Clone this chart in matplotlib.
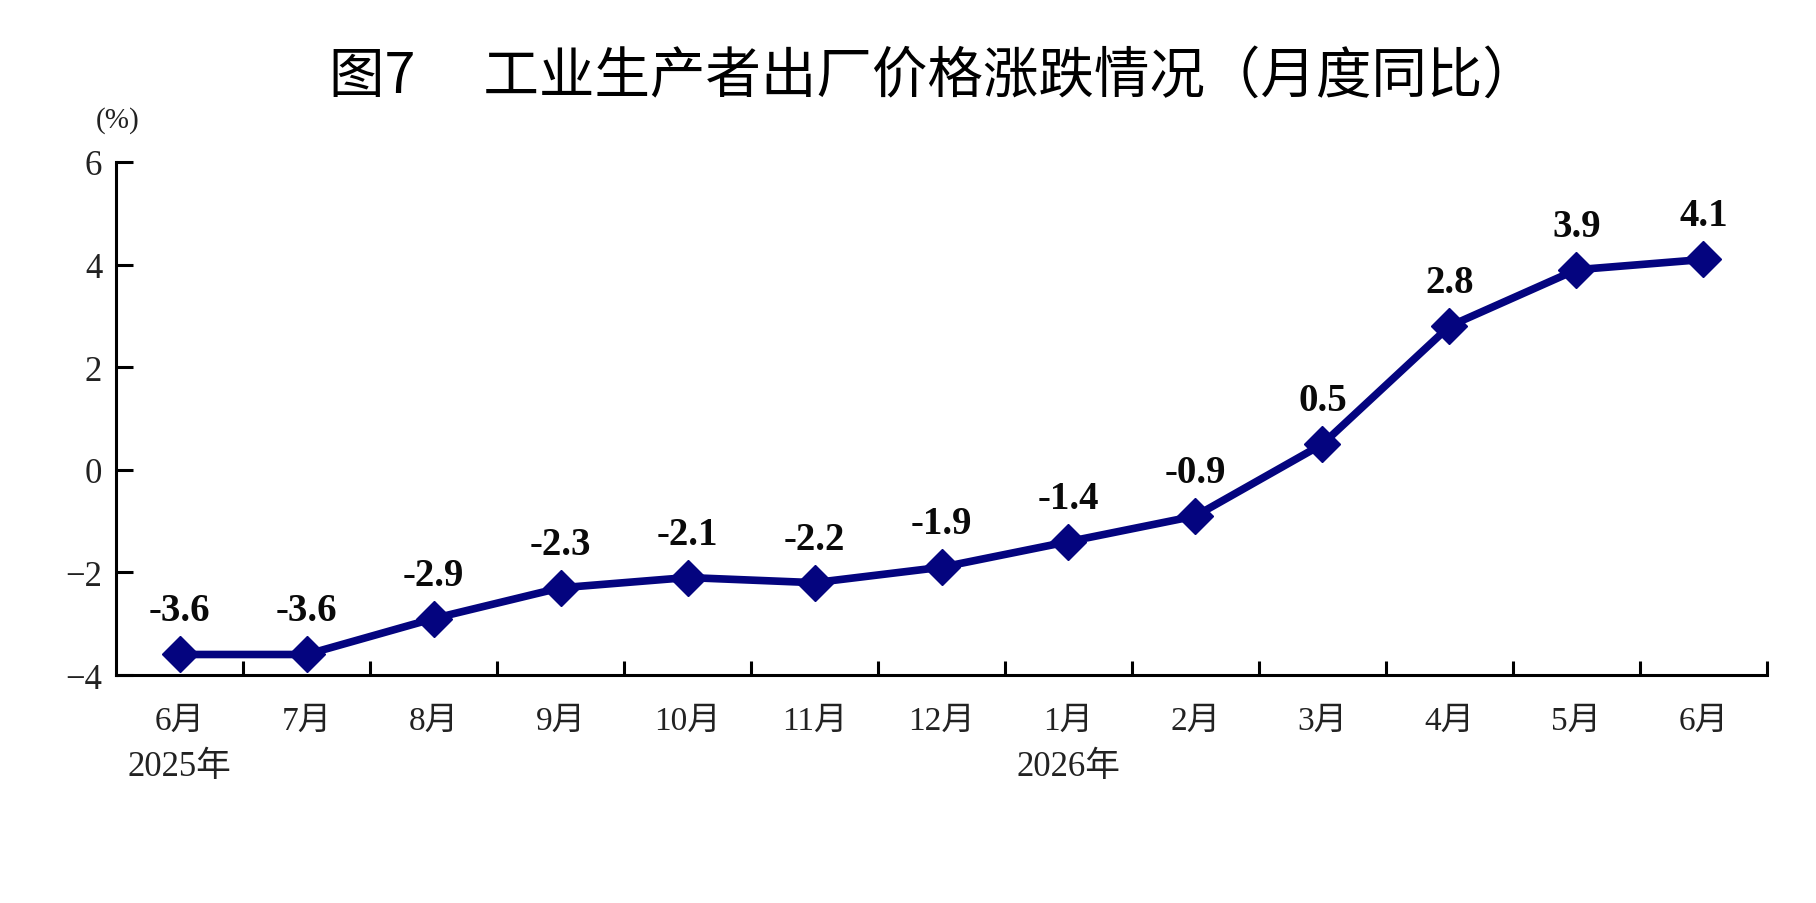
import numpy as np
import matplotlib

matplotlib.use("Agg")
import matplotlib.pyplot as plt
from matplotlib.ticker import FixedLocator

# ── data ────────────────────────────────────────────────────────────────────
months = ["6月", "7月", "8月", "9月", "10月", "11月", "12月",
          "1月", "2月", "3月", "4月", "5月", "6月"]
ppi_yoy = [-3.6, -3.6, -2.9, -2.3, -2.1, -2.2, -1.9,
           -1.4, -0.9, 0.5, 2.8, 3.9, 4.1]
year_marks = {0: "2025年", 7: "2026年"}
y_ticks = [-4, -2, 0, 2, 4, 6]

# ── style ───────────────────────────────────────────────────────────────────
LINE_COLOR = "#04047f"
TEXT_COLOR = "#222222"
SERIF = ["Liberation Serif", "Noto Sans CJK SC"]
plt.rcParams["font.family"] = SERIF
plt.rcParams["axes.unicode_minus"] = True

fig = plt.figure(figsize=(18.16, 9.04), dpi=100)
ax = fig.add_axes([0.0639, 0.2522, 0.9091, 0.5675])

x = np.arange(len(months))
ax.plot(x, ppi_yoy, color=LINE_COLOR, linewidth=5.5, marker="D",
        markersize=18, zorder=3, clip_on=False)

# value labels above each point
for xi, val in zip(x, ppi_yoy):
    ax.annotate(f"{val:.1f}", (xi, val), xytext=(0, 18), textcoords="offset points",
                ha="center", va="bottom", fontsize=28, fontweight="bold",
                color="#0a0a0a", family=SERIF)

ax.set_xlim(-0.5, len(months) - 0.5)
ax.set_ylim(-4, 6)

# spines
for side in ("top", "right"):
    ax.spines[side].set_visible(False)
for side in ("left", "bottom"):
    ax.spines[side].set_linewidth(2.2)
    ax.spines[side].set_color("black")

# y axis
ax.set_yticks(y_ticks)
ax.set_yticklabels([f"{v}".replace("-", "\u2212") for v in y_ticks])
ax.tick_params(axis="y", direction="in", length=12, width=2.2,
               labelsize=25, labelcolor=TEXT_COLOR, pad=10)

# x axis: labels at points, ticks between categories
ax.set_xticks(x)
ax.set_xticklabels(months)
ax.tick_params(axis="x", which="major", length=0, labelsize=24,
               labelcolor=TEXT_COLOR, pad=22)
ax.xaxis.set_minor_locator(FixedLocator(np.arange(0.5, len(months), 1.0)))
ax.tick_params(axis="x", which="minor", direction="in", length=10, width=2.2)

for idx, label in year_marks.items():
    ax.annotate(label, (idx, 0), xycoords=("data", "axes fraction"),
                xytext=(0, -54), textcoords="offset points",
                ha="center", va="top", fontsize=25, color=TEXT_COLOR, family=SERIF)

fig.text(0.0645, 0.867, "(%)", ha="center", va="center", fontsize=21,
         color=TEXT_COLOR, family=SERIF)

fig.text(0.514, 0.915, "图7\u3000 工业生产者出厂价格涨跌情况（月度同比）",
         ha="center", va="center", fontsize=40, color="black",
         family=["Noto Sans CJK SC", "DejaVu Sans"])

fig.savefig("out.png", dpi=100, facecolor="white")
